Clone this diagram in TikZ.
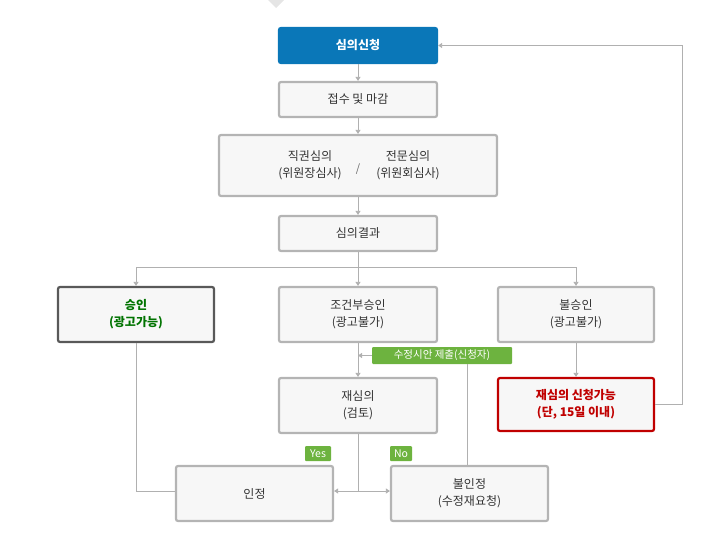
\documentclass[tikz,border=0pt]{standalone}
\usepackage{fontspec}
\setmainfont{Noto Sans CJK KR}
\usetikzlibrary{arrows.meta}
\definecolor{bd}{HTML}{B4B4B4}
\definecolor{fl}{HTML}{F7F7F7}
\definecolor{ln}{HTML}{B0B0B0}
\definecolor{gr}{HTML}{6DB33F}
\definecolor{bl}{HTML}{0A77B8}
\definecolor{rd}{HTML}{C00000}
\begin{document}
\begin{tikzpicture}[x=1pt,y=-1pt,
 box/.style={draw=bd,line width=2.2pt,fill=fl,rounded corners=2pt,font=\fontsize{12}{17}\selectfont,text=black!80,align=center,inner sep=0pt},
 tag/.style={fill=gr,rounded corners=1pt,text=white,font=\fontsize{10.5}{11}\selectfont,inner sep=0pt},
 con/.style={draw=ln,line width=0.8pt},
 arr/.style={con,-{Triangle[width=5pt,length=4pt]}}]
\useasboundingbox (0,0) rectangle (706,554);
\fill[black!10] (268,0) -- (284,0) -- (276,8) -- cycle;
\node[box,draw=bl,fill=bl,text=white,font=\fontsize{12}{17}\selectfont\bfseries,minimum width=158pt,minimum height=35pt] (a) at (358,45.5) {심의신청};
\node[box,minimum width=158pt,minimum height=35pt] (b) at (358,99.5) {접수 및 마감};
\node[box,minimum width=278pt,minimum height=61pt] (c) at (358,165.5) {};
\node[font=\fontsize{12}{17}\selectfont,text=black!80,align=center] (c1) at (310,165.5) {직권심의\\(위원장심사)};
\node[font=\fontsize{12}{17}\selectfont,text=black!80,align=center] (c2) at (408,165.5) {전문심의\\(위원회심사)};
\node[text=black!60,font=\fontsize{11}{12}\selectfont] (sl) at (358,169) {/};
\node[box,minimum width=158pt,minimum height=35pt] (d) at (358,233.5) {심의결과};
\node[box,draw=black!65,text=green!45!black,font=\fontsize{12}{17}\selectfont\bfseries,minimum width=156pt,minimum height=55pt] (e) at (136,314.5) {승인\\(광고가능)};
\node[box,minimum width=158pt,minimum height=55pt] (f) at (358,314.5) {조건부승인\\(광고불가)};
\node[box,minimum width=156pt,minimum height=55pt] (g) at (576,314.5) {불승인\\(광고불가)};
\node[box,minimum width=158pt,minimum height=55pt] (h) at (358,405.5) {재심의\\(검토)};
\node[box,draw=rd,text=rd,font=\fontsize{12}{17}\selectfont\bfseries,minimum width=156pt,minimum height=53pt] (i) at (576,404.5) {재심의 신청가능\\(단, 15일 이내)};
\node[box,minimum width=157pt,minimum height=55pt] (j) at (254.5,493.5) {인정};
\node[box,minimum width=157pt,minimum height=55pt] (k) at (469.5,493.5) {불인정\\(수정재요청)};
\node[tag,minimum width=140pt,minimum height=17pt] (t) at (442,355.5) {수정시안 제출(신청자)};
\node[tag,minimum width=26pt,minimum height=15pt] (y) at (318,453.5) {Yes};
\node[tag,minimum width=22pt,minimum height=15pt] (n) at (401,453.5) {No};
\coordinate (br) at (358,267);
\coordinate (m) at (358,491);
\draw[arr] (a) -- (b);
\draw[arr] (b) -- (c);
\draw[arr] (c) -- (d);
\draw[con] (d) -- (br);
\draw[arr] (br) -| (e.north);
\draw[arr] (br) -- (f);
\draw[arr] (br) -| (g.north);
\draw[arr] (f) -- (h);
\draw[arr] (g) -- (i);
\draw[arr] (t.west) -- (358,355.5);
\draw[con] (k.north -| 467,0) -- (t.south -| 467,0);
\draw[con] (e.south) |- (j.west |- m);
\draw[con] (h.south) -- (m);
\draw[arr] (m) -- (j.east |- m);
\draw[arr] (m) -- (k.west |- m);
\draw[arr] (i.east) -- (682,404.5) |- (a.east);
\end{tikzpicture}
\end{document}
